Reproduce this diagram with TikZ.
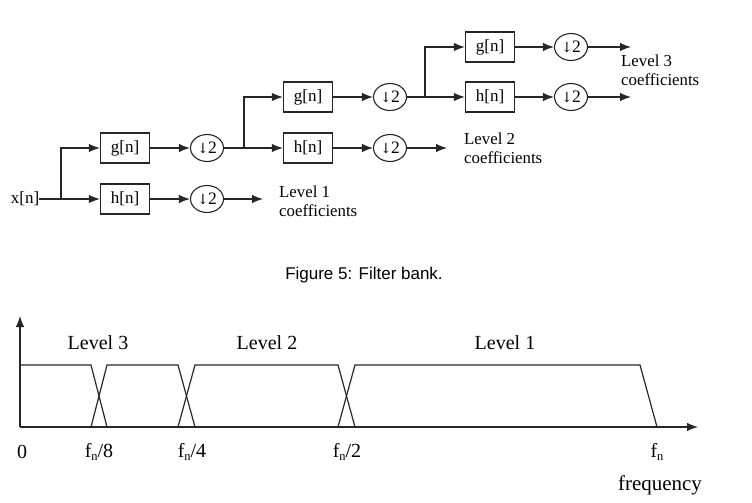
\documentclass[tikz,border=0pt]{standalone}
\usepackage{fontspec}
\setmainfont{Liberation Serif}
\newfontfamily\capfont{Liberation Sans}
\newfontfamily\arrfont{DejaVu Serif}
\usetikzlibrary{arrows.meta,shapes.geometric}

% subscripted cut-off frequency
\newcommand{\fsub}{f\raisebox{-0.35ex}{\fontsize{12.5}{12.5}\selectfont n}}
% downsampling-by-two symbol
\newcommand{\dntwo}{{\arrfont\fontsize{14}{14}\selectfont\char"2193}\kern-0.5pt 2}

\begin{document}
\begin{tikzpicture}[x=1pt,y=-1pt,
  wire/.style={line width=1.2pt, draw=black!85},
  sig/.style={wire, -{Latex[length=11pt,width=8.5pt]}},
  filt/.style={draw=black!85, line width=1.2pt, minimum width=49pt, minimum height=30pt,
    inner sep=0pt, font=\fontsize{17}{18}\selectfont},
  down/.style={draw=black!85, line width=1.1pt, ellipse, minimum width=33pt, minimum height=27pt,
    inner sep=0pt, font=\fontsize{17.5}{18}\selectfont},
  lbl/.style={anchor=west, align=left, inner sep=0pt, font=\fontsize{16.8}{19}\selectfont},
  plotlbl/.style={inner sep=0pt, font=\fontsize{20}{22}\selectfont}]
\useasboundingbox (0,0) rectangle (752,503);

% ---- three-level filter bank ----
\node[inner sep=0pt, font=\fontsize{17}{18}\selectfont] (xn) at (25,199) {x[n]};
\coordinate (j1) at (61,199);
\node[filt] (g1) at (125,148) {g[n]};
\node[filt] (h1) at (125,199) {h[n]};
\node[down] (dg1) at (207,148) {\dntwo};
\node[down] (dh1) at (207,199) {\dntwo};
\coordinate (o1) at (263,199);
\node[lbl] (l1) at (279,201) {Level 1\\coefficients};

\coordinate (j2) at (244,148);
\node[filt] (g2) at (308,97) {g[n]};
\node[filt] (h2) at (308,148) {h[n]};
\node[down] (dg2) at (390,97) {\dntwo};
\node[down] (dh2) at (390,148) {\dntwo};
\coordinate (o2) at (447,148);
\node[lbl] (l2) at (464,148) {Level 2\\coefficients};

\coordinate (j3) at (425,97);
\node[filt] (g3) at (490,47) {g[n]};
\node[filt] (h3) at (490,97) {h[n]};
\node[down] (dg3) at (571,47) {\dntwo};
\node[down] (dh3) at (571,97) {\dntwo};
\coordinate (o3g) at (631,47);
\coordinate (o3h) at (631,97);
\node[lbl] (l3) at (621,70) {Level 3\\coefficients};

\draw[wire] (xn.east) -- (j1);
\draw[sig] (j1) |- (g1.west);
\draw[sig] (j1) -- (h1.west);
\draw[sig] (g1.east) -- (dg1.west);
\draw[sig] (h1.east) -- (dh1.west);
\draw[sig] (dh1.east) -- (o1);

\draw[wire] (dg1.east) -- (j2);
\draw[sig] (j2) |- (g2.west);
\draw[sig] (j2) -- (h2.west);
\draw[sig] (g2.east) -- (dg2.west);
\draw[sig] (h2.east) -- (dh2.west);
\draw[sig] (dh2.east) -- (o2);

\draw[wire] (dg2.east) -- (j3);
\draw[sig] (j3) |- (g3.west);
\draw[sig] (j3) -- (h3.west);
\draw[sig] (g3.east) -- (dg3.west);
\draw[sig] (h3.east) -- (dh3.west);
\draw[sig] (dg3.east) -- (o3g);
\draw[sig] (dh3.east) -- (o3h);

\node[inner sep=0pt, font=\capfont\fontsize{17}{20}\selectfont] (cap) at (364,275) {Figure 5: Filter bank.};

% ---- frequency bands ----
\coordinate (org) at (20,427);
\draw[sig] (org) -- (698,427);
\draw[sig] (org) -- (20,316);
\draw[wire] (20,365) -- (91,365) -- (107,427);
\draw[wire] (91,427) -- (107,365) -- (178,365) -- (195,427);
\draw[wire] (178,427) -- (195,365) -- (338,365) -- (355,427);
\draw[wire] (338,427) -- (355,365) -- (640,365) -- (657,427);

\node[plotlbl] (lv3) at (98,343) {Level 3};
\node[plotlbl] (lv2) at (267,343) {Level 2};
\node[plotlbl] (lv1) at (505,343) {Level 1};

\node[plotlbl] (t0) at (22,452) {0};
\node[plotlbl] (t8) at (99,452) {\fsub/8};
\node[plotlbl] (t4) at (192,452) {\fsub/4};
\node[plotlbl] (t2) at (347,452) {\fsub/2};
\node[plotlbl] (tn) at (657,452) {\fsub};
\node[plotlbl, font=\fontsize{21}{22}\selectfont] (fq) at (660,485) {frequency};
\end{tikzpicture}
\end{document}
